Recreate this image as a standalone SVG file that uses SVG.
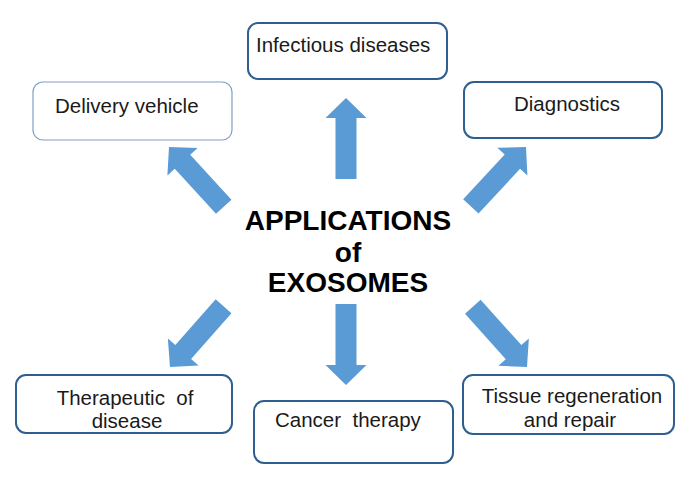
<svg xmlns="http://www.w3.org/2000/svg" xmlns:xlink="http://www.w3.org/1999/xlink" width="696" height="487" viewBox="0 0 696 487">
  <style>
    .box { fill: #ffffff; stroke: #2f5f8e; stroke-width: 2; }
    .box-light { fill: #ffffff; stroke: #7fa0c8; stroke-width: 1.2; }
    .lbl { font-family: "Liberation Sans", Arial, sans-serif; font-size: 20.5px; fill: #1a1a1a; white-space: pre; }
    .title { font-family: "Liberation Sans", Arial, sans-serif; font-size: 28px; font-weight: bold; fill: #000000; text-anchor: middle; }
    .arrow { fill: #5b9bd5; }
  </style>
  <defs>
    <path id="arr" d="M0,0 L20.5,20 L10.5,20 L10.5,81 L-10.5,81 L-10.5,20 L-20.5,20 Z"/>
  </defs>
  <rect width="696" height="487" fill="#ffffff"/>

  <g id="connectors">
    <use xlink:href="#arr" class="arrow" transform="translate(346,98)"/>
    <use xlink:href="#arr" class="arrow" transform="translate(346,385) rotate(180)"/>
    <use xlink:href="#arr" class="arrow" transform="translate(169,147) rotate(-42.5)"/>
    <use xlink:href="#arr" class="arrow" transform="translate(526,147) rotate(42.9)"/>
    <use xlink:href="#arr" class="arrow" transform="translate(170,367) rotate(-138.6)"/>
    <use xlink:href="#arr" class="arrow" transform="translate(527,367) rotate(138)"/>
  </g>

  <g id="center">
    <text class="title" x="348" y="230">APPLICATIONS</text>
    <text class="title" x="348" y="262">of</text>
    <text class="title" x="348" y="292">EXOSOMES</text>
  </g>

  <g id="infectious">
    <rect class="box" x="248" y="23" width="199" height="56" rx="10"/>
    <text class="lbl" x="256" y="52">Infectious diseases</text>
  </g>

  <g id="delivery">
    <rect class="box-light" x="33" y="82" width="199" height="58" rx="10"/>
    <text class="lbl" x="55" y="113">Delivery vehicle</text>
  </g>

  <g id="diagnostics">
    <rect class="box" x="464" y="82" width="198" height="56" rx="10"/>
    <text class="lbl" x="567" y="111" text-anchor="middle">Diagnostics</text>
  </g>

  <g id="therapeutic">
    <rect class="box" x="16" y="375" width="216" height="58" rx="10"/>
    <text class="lbl" x="125" y="405" text-anchor="middle">Therapeutic  of</text>
    <text class="lbl" x="127" y="428" text-anchor="middle">disease</text>
  </g>

  <g id="cancer">
    <rect class="box" x="254" y="401" width="199" height="62" rx="10"/>
    <text class="lbl" x="275" y="427">Cancer  therapy</text>
  </g>

  <g id="tissue">
    <rect class="box" x="463" y="375" width="211" height="59" rx="10"/>
    <text class="lbl" x="572" y="403" text-anchor="middle">Tissue regeneration</text>
    <text class="lbl" x="570" y="427" text-anchor="middle">and repair</text>
  </g>
</svg>
